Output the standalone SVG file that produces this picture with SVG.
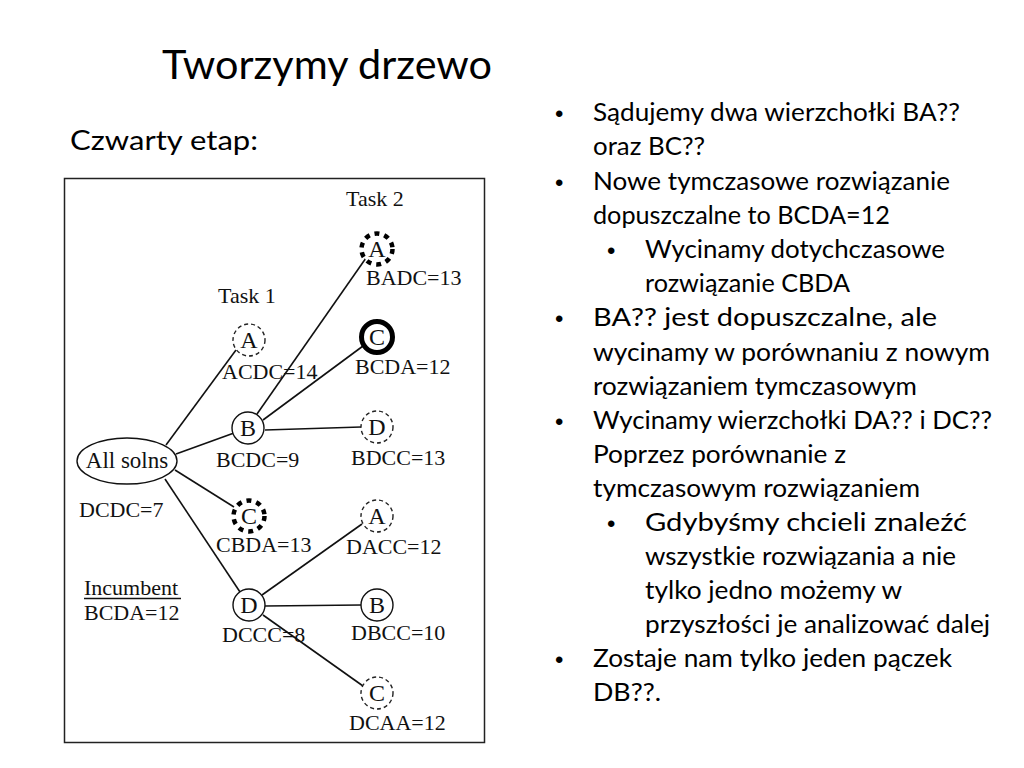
<svg xmlns="http://www.w3.org/2000/svg" width="1024" height="768" viewBox="0 0 1024 768">
<style>
.t{font-family:"Liberation Serif","Times New Roman",serif;font-size:22px;fill:#111}
.c{text-anchor:middle;font-size:24px}
.s{font-family:Lato,"Open Sans",sans-serif;font-size:25px;fill:#000}
.b{font-family:"Liberation Sans",Arial,sans-serif;font-size:24px;fill:#000}
.e{stroke:#111;stroke-width:1.6;fill:none}
.n{fill:#fff;stroke:#111;stroke-width:1.4}
.d{fill:#fff;stroke:#222;stroke-width:1.4;stroke-dasharray:4 3}
.p{fill:#fff;stroke:#000;stroke-width:4.5;stroke-dasharray:5 5}
.k{fill:#fff;stroke:#000;stroke-width:5}
</style>
<rect width="1024" height="768" fill="#fff"/>
<text x="162" y="79" style="font-family:Lato,'Open Sans',sans-serif;font-size:40px" textLength="330" lengthAdjust="spacingAndGlyphs">Tworzymy drzewo</text>
<text x="70" y="150" style="font-family:Lato,'Open Sans',sans-serif;font-size:26px" textLength="188" lengthAdjust="spacingAndGlyphs">Czwarty etap:</text>
<rect x="64.5" y="178.5" width="420" height="564" fill="#fff" stroke="#222" stroke-width="1.5"/>
<g id="connectors">
<line class="e" x1="166" y1="445" x2="236" y2="350"/>
<line class="e" x1="176" y1="454" x2="234" y2="433"/>
<line class="e" x1="175" y1="470" x2="234" y2="507"/>
<line class="e" x1="165" y1="479" x2="240" y2="592"/>
<line class="e" x1="257" y1="414" x2="366" y2="258"/>
<line class="e" x1="263" y1="420" x2="363" y2="346"/>
<line class="e" x1="265" y1="430" x2="361" y2="427"/>
<line class="e" x1="262" y1="595" x2="362" y2="524"/>
<line class="e" x1="265" y1="606" x2="361" y2="605"/>
<line class="e" x1="263" y1="615" x2="363" y2="686"/>
</g>
<g id="root"><ellipse class="n" cx="127" cy="461" rx="50" ry="23"/><text class="t c" x="127" y="468" style="font-size:23px">All solns</text></g>
<g id="t1A"><circle class="d" cx="249" cy="340" r="16"/><text class="t c" x="249" y="348">A</text></g>
<g id="t1B"><circle class="n" cx="248" cy="428" r="16"/><text class="t c" x="248" y="436">B</text></g>
<g id="t1C"><circle class="p" cx="249" cy="516" r="15.5"/><text class="t c" x="249" y="524">C</text></g>
<g id="t1D"><circle class="n" cx="249" cy="605" r="16"/><text class="t c" x="249" y="613">D</text></g>
<g id="t2A"><circle class="p" cx="377" cy="249" r="15.5"/><text class="t c" x="377" y="257">A</text></g>
<g id="t2C"><circle class="k" cx="377" cy="337" r="15.5"/><text class="t c" x="377" y="345">C</text></g>
<g id="t2D"><circle class="d" cx="377" cy="427" r="16"/><text class="t c" x="377" y="435">D</text></g>
<g id="t2A2"><circle class="d" cx="377" cy="516" r="16"/><text class="t c" x="377" y="524">A</text></g>
<g id="t2B"><circle class="n" cx="377" cy="605" r="16"/><text class="t c" x="377" y="613">B</text></g>
<g id="t2C2"><circle class="d" cx="377" cy="693" r="16"/><text class="t c" x="377" y="701">C</text></g>
<g id="labels">
<text class="t" x="346" y="206">Task 2</text>
<text class="t" x="218" y="303">Task 1</text>
<text class="t" x="366" y="285">BADC=13</text>
<text class="t" x="222" y="379">ACDC=14</text>
<text class="t" x="355" y="374">BCDA=12</text>
<text class="t" x="216" y="467">BCDC=9</text>
<text class="t" x="351" y="465">BDCC=13</text>
<text class="t" x="79" y="517">DCDC=7</text>
<text class="t" x="216" y="552">CBDA=13</text>
<text class="t" x="346" y="554">DACC=12</text>
<text class="t" x="84" y="595">Incumbent</text>
<line x1="84" y1="598.5" x2="181" y2="598.5" stroke="#111" stroke-width="1.3"/>
<text class="t" x="84" y="620">BCDA=12</text>
<text class="t" x="222" y="642">DCCC=8</text>
<text class="t" x="351" y="640">DBCC=10</text>
<text class="t" x="349" y="730">DCAA=12</text>
</g>
<g id="bullets">
<text class="b" x="555" y="122">•</text>
<text class="b" x="555" y="191">•</text>
<text class="b" x="607" y="259">•</text>
<text class="b" x="555" y="327">•</text>
<text class="b" x="555" y="430">•</text>
<text class="b" x="607" y="532">•</text>
<text class="b" x="555" y="668">•</text>
</g>
<g id="text">
<text class="s" x="593" y="121" textLength="367" lengthAdjust="spacingAndGlyphs">Sądujemy dwa wierzchołki BA??</text>
<text class="s" x="593" y="155" textLength="112" lengthAdjust="spacingAndGlyphs">oraz BC??</text>
<text class="s" x="593" y="190" textLength="357" lengthAdjust="spacingAndGlyphs">Nowe tymczasowe rozwiązanie</text>
<text class="s" x="593" y="224" textLength="297" lengthAdjust="spacingAndGlyphs">dopuszczalne to BCDA=12</text>
<text class="s" x="645" y="258" textLength="300" lengthAdjust="spacingAndGlyphs">Wycinamy dotychczasowe</text>
<text class="s" x="645" y="292" textLength="205" lengthAdjust="spacingAndGlyphs">rozwiązanie CBDA</text>
<text class="s" x="593" y="326" textLength="344" lengthAdjust="spacingAndGlyphs">BA?? jest dopuszczalne, ale</text>
<text class="s" x="593" y="361" textLength="397" lengthAdjust="spacingAndGlyphs">wycinamy w porównaniu z nowym</text>
<text class="s" x="593" y="395" textLength="324" lengthAdjust="spacingAndGlyphs">rozwiązaniem tymczasowym</text>
<text class="s" x="593" y="429" textLength="399" lengthAdjust="spacingAndGlyphs">Wycinamy wierzchołki DA?? i DC??</text>
<text class="s" x="593" y="463" textLength="253" lengthAdjust="spacingAndGlyphs">Poprzez porównanie z</text>
<text class="s" x="593" y="497" textLength="327" lengthAdjust="spacingAndGlyphs">tymczasowym rozwiązaniem</text>
<text class="s" x="645" y="531" textLength="322" lengthAdjust="spacingAndGlyphs">Gdybyśmy chcieli znaleźć</text>
<text class="s" x="645" y="565" textLength="311" lengthAdjust="spacingAndGlyphs">wszystkie rozwiązania a nie</text>
<text class="s" x="645" y="599" textLength="257" lengthAdjust="spacingAndGlyphs">tylko jedno możemy w</text>
<text class="s" x="645" y="633" textLength="345" lengthAdjust="spacingAndGlyphs">przyszłości je analizować dalej</text>
<text class="s" x="593" y="667" textLength="359" lengthAdjust="spacingAndGlyphs">Zostaje nam tylko jeden pączek</text>
<text class="s" x="593" y="701" textLength="68" lengthAdjust="spacingAndGlyphs">DB??.</text>
</g>
</svg>
